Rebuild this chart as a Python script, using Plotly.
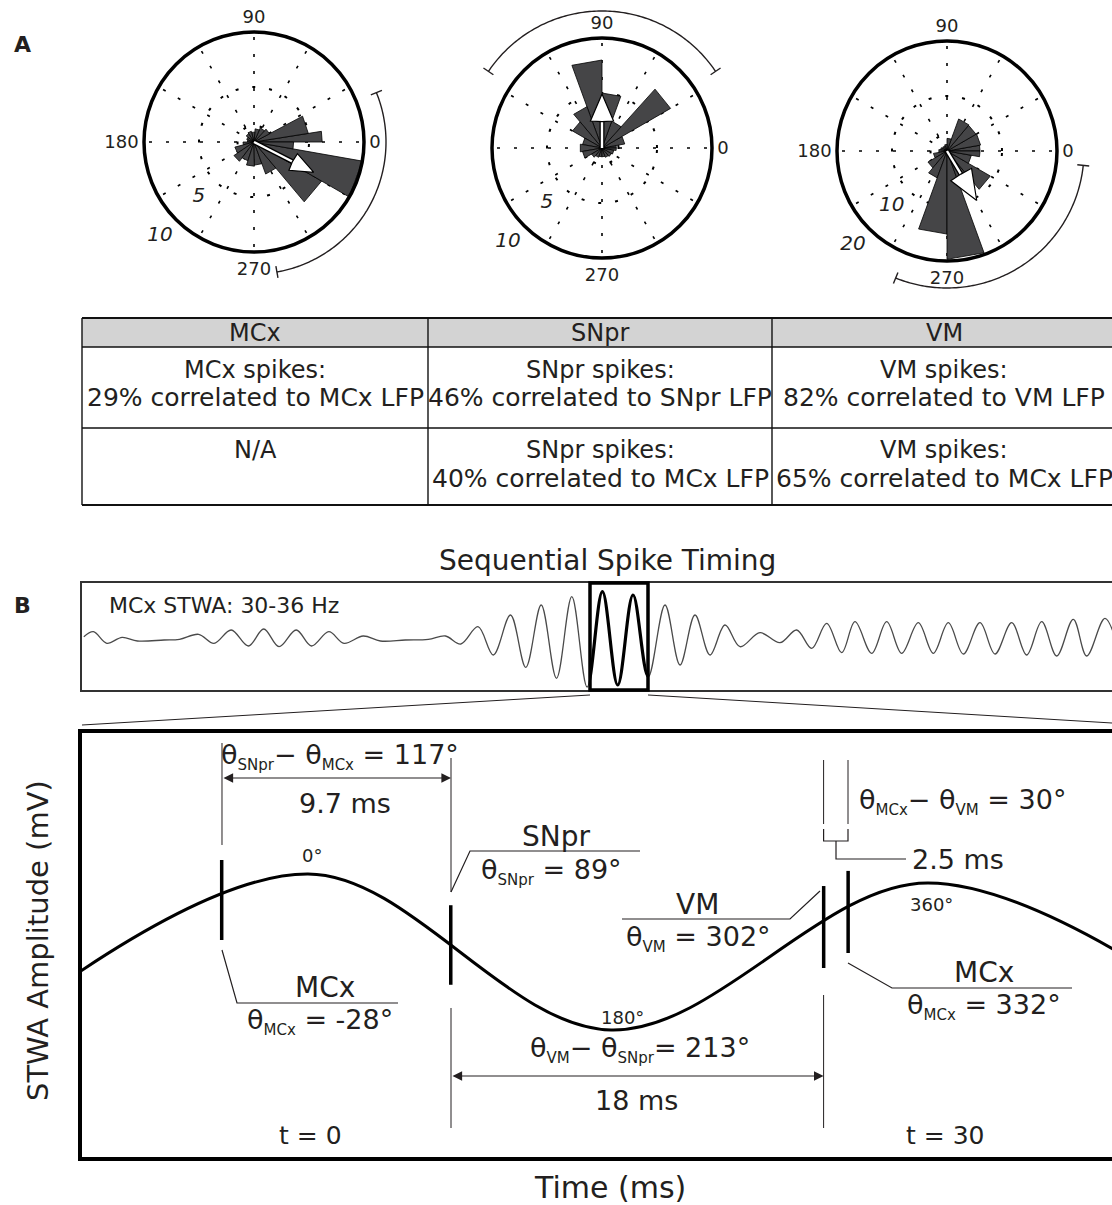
import numpy as np
import plotly.graph_objects as go

W, H = 1112, 1205
FONT = "DejaVu Sans"
INK = "#231f20"
WEDGE = "#454547"


def fx(x):
    return x / W


def fy(y):
    return 1 - y / H


# ---------------- Panel A data: rose histograms of spike phase ----------------
regions = ["MCx", "SNpr", "VM"]

mcx_edges = [0, 9, 28, 47, 66, 85, 104, 123, 142, 161, 180, 195, 214, 233, 252, 271, 290, 310, 330, 350, 360]
mcx_counts = [6.2, 5.0, 1.6, 1.4, 1.2, 0.9, 1.0, 0.9, 0.7, 0.6, 1.0, 1.8, 2.2, 1.8, 2.2, 2.1, 3.1, 7.1, 10.0, 3.6]
mcx_rmax = 10
mcx_mean_angle, mcx_mean_len = -27, 6.1
mcx_ci = [-80, 22]

snpr_edges = [0, 10, 30, 48, 70, 90, 110, 130, 150, 170, 190, 210, 230, 250, 270, 290, 310, 330, 350, 360]
snpr_counts = [1.3, 2.1, 7.2, 2.6, 5.0, 8.0, 4.0, 3.1, 1.8, 2.0, 1.8, 1.1, 0.9, 0.8, 0.8, 0.9, 1.0, 1.1, 1.3]
snpr_rmax = 10
snpr_mean_angle, snpr_mean_len = 90, 4.9
snpr_ci = [34, 146]

vm_edges = [0, 10, 30, 50, 70, 90, 110, 130, 150, 170, 190, 210, 230, 250, 270, 290, 310, 330, 350, 360]
vm_counts = [6.0, 6.2, 6.1, 6.2, 2.3, 1.2, 1.0, 1.0, 1.2, 1.5, 2.5, 4.0, 5.2, 15.1, 19.7, 5.8, 9.1, 4.5, 6.0]
vm_rmax = 20
vm_mean_angle, vm_mean_len = -59, 10.5
vm_ci = [-112, -6]

# Table values (% of spikes phase-locked)
pct_local = [29, 46, 82]
pct_to_mcx = [None, 40, 65]

# ---------------- Panel B data ----------------
# MCx spike-triggered waveform average (extrema), time in ms, amplitude in uV
stwa_t = [1.8, 11.4, 24.8, 40.1, 55.4, 82, 97.5, 116.6, 132, 149.2, 166.4, 181.7, 197, 214.2, 229.5,
          246.8, 262, 281.2, 298.4, 323.3, 346.3, 363.5, 378.8, 396, 411.3, 428.5, 443.8, 459.2, 474.5,
          489.8, 505.1, 520.4, 535.7, 551, 566.3, 583, 598, 613, 628, 643, 658, 678, 698, 714.7, 729.7,
          744.7, 759.7, 773, 789.7, 804.7, 819.7, 836.3, 851.3, 866.3, 881.3, 898, 913, 929.7, 944.7,
          959.7, 974.7, 991.3, 1004.7, 1023, 1038]
stwa_v = [3.3, 8.3, -3.3, 2.7, -1, 0, 0.7, 5.7, -3.3, 10, -6, 11, -6.7, 10, -6,
          8.3, -3.3, 4, -1, 0, 0.7, 4, -4, 13.3, -15, 25, -27.3, 35, -38.3,
          43.3, -47, 48.3, -45, 45, -36.7, 35, -25, 25, -15, 15, -6.7, 7.3, -2.7, 10, -8.3,
          16.7, -12.7, 18.3, -13.3, 18.3, -13.3, 17.3, -13.3, 17.3, -14, 17.3, -14, 17.3, -15,
          18.3, -16, 20.7, -16, 21.7, -16]
zoom_window = [508, 566]

# One zoomed cycle (phase in degrees, normalised amplitude)
cyc_phase = [-180, 0, 176, 360, 540]
cyc_amp = [-1.0, 1.0, -1.0, 0.885, -1.0]

spike_names = ["MCx", "SNpr", "VM", "MCx"]
spike_phase = [-50.1, 82.9, 299.4, 313.6]
spike_lo = [0.154, -0.42, -0.205, -0.013]
spike_hi = [1.18, 0.60, 0.846, 1.04]

fig = go.Figure()
shapes = []
annotations = []


def line_px(pts, w=1.2, color=INK):
    path = "M " + " L ".join(f"{fx(x):.5f},{fy(y):.5f}" for x, y in pts)
    shapes.append(dict(type="path", path=path, xref="paper", yref="paper", line=dict(color=color, width=w)))


def text_px(x, y, t, size, xanchor="center", yanchor="middle", **kw):
    annotations.append(dict(x=fx(x), y=fy(y), xref="paper", yref="paper", text=t, showarrow=False,
                            xanchor=xanchor, yanchor=yanchor,
                            font=dict(family=FONT, size=size, color=INK), **kw))


# ---------------- Polar roses ----------------
R = 110
polar_specs = [
    dict(edges=mcx_edges, counts=mcx_counts, rmax=mcx_rmax, ang=mcx_mean_angle, ln=mcx_mean_len,
         ci=mcx_ci, c=(254, 142), arc=132, R2=140, head=(0.21, 0.085), labels=[0, 90, 180, 270]),
    dict(edges=snpr_edges, counts=snpr_counts, rmax=snpr_rmax, ang=snpr_mean_angle, ln=snpr_mean_len,
         ci=snpr_ci, c=(602, 148), arc=137, R2=145, head=(0.245, 0.105), labels=[0, 90, 270]),
    dict(edges=vm_edges, counts=vm_counts, rmax=vm_rmax, ang=vm_mean_angle, ln=vm_mean_len,
         ci=vm_ci, c=(947, 151), arc=137, R2=145, head=(0.275, 0.11), labels=[0, 90, 180, 270]),
]

layout_polars = {}
dotdash = "3px,14px"
for i, s in enumerate(polar_specs):
    pid = "polar" if i == 0 else f"polar{i + 1}"
    oid = f"polar{i + 4}"
    cx, cy = s["c"]
    rmax = s["rmax"]
    layout_polars[pid] = dict(
        domain=dict(x=[fx(cx - R), fx(cx + R)], y=[fy(cy + R), fy(cy - R)]),
        bgcolor="white",
        radialaxis=dict(range=[0, rmax], tickvals=[0.15 * rmax, 0.5 * rmax], showticklabels=False,
                        ticks="", showline=False, gridcolor="black", griddash=dotdash, gridwidth=1.6),
        angularaxis=dict(tickvals=s["labels"], ticktext=[str(a) for a in s["labels"]],
                         direction="counterclockwise", rotation=0, showline=True, linecolor="black",
                         linewidth=3.5, showgrid=False, ticks="",
                         tickfont=dict(family=FONT, size=18, color=INK)),
    )
    R2 = s["R2"]
    rscale = rmax / R  # data units per px
    layout_polars[oid] = dict(
        domain=dict(x=[fx(cx - R2), fx(cx + R2)], y=[fy(cy + R2), fy(cy - R2)]),
        bgcolor="rgba(0,0,0,0)",
        radialaxis=dict(range=[0, R2 * rscale], visible=False),
        angularaxis=dict(visible=False, direction="counterclockwise", rotation=0),
    )

    # dotted spokes every 30 degrees
    sr, st = [], []
    for a in range(0, 360, 30):
        sr += [0, rmax, None]
        st += [a, a, None]
    fig.add_trace(go.Scatterpolar(r=sr, theta=st, mode="lines", line=dict(color="black", width=1.6, dash=dotdash),
                                  subplot=pid, showlegend=False, hoverinfo="skip"))

    # wedges
    e = s["edges"]
    for a0, a1, c in zip(e[:-1], e[1:], s["counts"]):
        fig.add_trace(go.Scatterpolar(r=[0, c, c, 0], theta=[a0, a0, a1, a1], mode="lines", fill="toself",
                                      fillcolor=WEDGE, line=dict(color="black", width=0.8),
                                      subplot=pid, showlegend=False, hoverinfo="skip"))
    # mean vector arrow
    ang, ln = s["ang"], s["ln"]
    hl, hw = s["head"][0] * rmax, s["head"][1] * rmax
    rb = ln - hl
    fig.add_trace(go.Scatterpolar(r=[0, rb + 0.2], theta=[ang, ang], mode="lines",
                                  line=dict(color="black", width=5), subplot=pid, showlegend=False,
                                  hoverinfo="skip"))
    fig.add_trace(go.Scatterpolar(r=[0, rb + 0.3], theta=[ang, ang], mode="lines",
                                  line=dict(color="white", width=2.4), subplot=pid, showlegend=False,
                                  hoverinfo="skip"))
    rr = float(np.hypot(rb, hw))
    da = float(np.degrees(np.arctan2(hw, rb)))
    fig.add_trace(go.Scatterpolar(r=[ln, rr, rb * 0.98, rr, ln], theta=[ang, ang + da, ang, ang - da, ang],
                                  mode="lines", fill="toself", fillcolor="white",
                                  line=dict(color="black", width=1.2), subplot=pid, showlegend=False,
                                  hoverinfo="skip"))

    # confidence arc with end bars (overlay polar)
    ra = s["arc"] * rscale
    th = np.linspace(s["ci"][0], s["ci"][1], 120)
    fig.add_trace(go.Scatterpolar(r=[ra] * len(th), theta=th, mode="lines",
                                  line=dict(color=INK, width=1.4), subplot=oid, showlegend=False,
                                  hoverinfo="skip"))
    for a in s["ci"]:
        fig.add_trace(go.Scatterpolar(r=[ra - 6 * rscale, ra + 6 * rscale], theta=[a, a], mode="lines",
                                      line=dict(color=INK, width=1.4), subplot=oid, showlegend=False,
                                      hoverinfo="skip"))
    # radial scale labels
    off = 23 * rscale
    fig.add_trace(go.Scatterpolar(r=[0.5 * rmax + off, rmax + off], theta=[225, 225], mode="text",
                                  text=[f"{0.5 * rmax:g}", f"{rmax:g}"], cliponaxis=False,
                                  textfont=dict(family=FONT, size=20, color=INK, style="italic"),
                                  subplot=oid, showlegend=False, hoverinfo="skip"))

# ---------------- Table (drawn with shapes + text) ----------------
col_x = [82, 428, 772, 1116]
row_y = [318, 347, 428, 505]
shapes.append(dict(type="rect", xref="paper", yref="paper", x0=fx(col_x[0]), x1=1.0, y0=fy(row_y[1]),
                   y1=fy(row_y[0]), fillcolor="#d3d3d3", line=dict(width=0), layer="below"))
for k, y in enumerate(row_y):
    line_px([(col_x[0], y), (1112, y)], w=2.2 if k in (0, 3) else 1.4, color="#111")
for x in col_x[:3]:
    line_px([(x, row_y[0]), (x, row_y[3])], w=1.4, color="#111")
for j, reg in enumerate(regions):
    xc = (col_x[j] + col_x[j + 1]) / 2
    text_px(xc, 333, reg, 24)
    text_px(xc, 370, f"{reg} spikes:", 24)
    text_px(xc, 398, f"{pct_local[j]}% correlated to {reg} LFP", 25)
    if pct_to_mcx[j] is None:
        text_px(xc, 450, "N/A", 24)
    else:
        text_px(xc, 450, f"{reg} spikes:", 24)
        text_px(xc, 479, f"{pct_to_mcx[j]}% correlated to MCx LFP", 25)

# ---------------- Panel B: top trace ----------------
fig.add_trace(go.Scatter(x=stwa_t, y=stwa_v, mode="lines", line=dict(color="#4a4a4a", width=1.3, shape="spline"),
                         xaxis="x", yaxis="y", showlegend=False, hoverinfo="skip"))
sel = [i for i, t in enumerate(stwa_t) if zoom_window[0] - 40 <= t <= zoom_window[1] + 40]
fig.add_trace(go.Scatter(x=[stwa_t[i] for i in sel], y=[stwa_v[i] for i in sel], mode="lines",
                         line=dict(color="black", width=3.2, shape="spline"),
                         xaxis="x2", yaxis="y", showlegend=False, hoverinfo="skip"))

# ---------------- Panel B: zoomed cycle ----------------
fig.add_trace(go.Scatter(x=cyc_phase, y=cyc_amp, mode="lines", line=dict(color="black", width=3, shape="spline"),
                         xaxis="x3", yaxis="y3", showlegend=False, hoverinfo="skip"))
sx, sy = [], []
for p, lo, hi in zip(spike_phase, spike_lo, spike_hi):
    sx += [p, p, None]
    sy += [lo, hi, None]
fig.add_trace(go.Scatter(x=sx, y=sy, mode="lines", line=dict(color="black", width=3.5),
                         xaxis="x3", yaxis="y3", showlegend=False, hoverinfo="skip"))

# highlight box on the top trace
shapes.append(dict(type="rect", xref="x", yref="y domain", x0=zoom_window[0], x1=zoom_window[1], y0=0, y1=1,
                   line=dict(color="black", width=3.5)))
# connector lines
line_px([(590, 695), (82, 725)], w=1.0)
line_px([(648, 695), (1112, 723)], w=1.0)

# thin guide lines
line_px([(222, 743), (222, 845)], w=1.0)
line_px([(451, 758), (451, 892)], w=1.0)
line_px([(451, 1008), (451, 1128)], w=1.0)
line_px([(823.6, 760), (823.6, 824)], w=1.0)
line_px([(823.6, 995), (823.6, 1128)], w=1.0)
line_px([(848, 760), (848, 824)], w=1.0)
# leaders
line_px([(222, 950), (237, 1003), (398, 1003)], w=1.2)
line_px([(451, 892), (470, 851), (640, 851)], w=1.2)
line_px([(820, 891), (790, 919), (622, 919)], w=1.2)
line_px([(848, 963), (892, 988), (1072, 988)], w=1.2)
line_px([(823.6, 829), (823.6, 841), (848, 841), (848, 829)], w=1.2)
line_px([(836, 841), (836, 859), (906, 859)], w=1.2)

# double arrows
for (x0, x1, y) in [(222, 451, 778), (451, 823.6, 1076)]:
    annotations.append(dict(x=fx(x1), y=fy(y), xref="paper", yref="paper", ax=-(x1 - x0), ay=0,
                            axref="pixel", ayref="pixel", text="", showarrow=True, arrowhead=2,
                            startarrowhead=2, arrowside="end+start", arrowsize=1.6, arrowwidth=1.2,
                            arrowcolor=INK, standoff=0, startstandoff=0))


def th(sub):
    return f"θ<sub><span style='font-size:15px'>{sub}</span></sub>"


text_px(340, 756, f"{th('SNpr')}− {th('MCx')} = 117°", 27)
text_px(345, 803, "9.7 ms", 27)
text_px(556, 836, "SNpr", 28)
text_px(551, 871, f"{th('SNpr')} = 89°", 27)
text_px(325, 987, "MCx", 28)
text_px(320, 1021, f"{th('MCx')} = -28°", 27)
text_px(697, 904, "VM", 28)
text_px(698, 938, f"{th('VM')} = 302°", 27)
text_px(984, 972, "MCx", 28)
text_px(984, 1006, f"{th('MCx')} = 332°", 27)
text_px(963, 801, f"{th('MCx')}− {th('VM')} = 30°", 27)
text_px(958, 859, "2.5 ms", 27)
text_px(640, 1049, f"{th('VM')}− {th('SNpr')}= 213°", 27)
text_px(636, 1100, "18 ms", 27)
text_px(312, 855, "0°", 18)
text_px(622, 1017, "180°", 18)
text_px(931, 904, "360°", 18)
text_px(310, 1135, "t = 0", 25)
text_px(945, 1135, "t = 30", 25)
text_px(107, 605, "MCx STWA: 30-36 Hz", 22, xanchor="left")
text_px(607, 560, "Sequential Spike Timing", 28)
text_px(610, 1187, "Time (ms)", 30)
text_px(38, 941, "STWA Amplitude (mV)", 29, textangle=-90)
text_px(22, 45, "<b>A</b>", 22)
text_px(22, 605, "<b>B</b>", 22)

axis_off = dict(showticklabels=False, ticks="", showgrid=False, zeroline=False)
fig.update_layout(
    width=W, height=H, margin=dict(l=0, r=0, t=0, b=0), paper_bgcolor="white", plot_bgcolor="white",
    showlegend=False,
    xaxis=dict(domain=[fx(82), 1.0], range=[0, 1030], showline=True, mirror=True, linecolor="#333",
               linewidth=2, anchor="y", **axis_off),
    yaxis=dict(domain=[fy(690), fy(583)], range=[-50, 57], showline=True, linecolor="#333", linewidth=2,
               anchor="x", **axis_off),
    xaxis2=dict(domain=[fx(590), fx(648)], range=zoom_window, anchor="y", visible=False),
    xaxis3=dict(domain=[fx(82), 1.0], range=[-131.2, 466.8], showline=True, mirror=True, linecolor="black",
                linewidth=3.5, anchor="y3", **axis_off),
    yaxis3=dict(domain=[fy(1157), fy(733)], range=[-2.628, 2.808], showline=True, linecolor="black",
                linewidth=3.5, anchor="x3", **axis_off),
    shapes=shapes,
    annotations=annotations,
    **layout_polars,
)

fig.write_html("out.html", config={"displayModeBar": False},
               post_script="document.body.style.margin='0px';document.body.style.overflow='hidden';")
